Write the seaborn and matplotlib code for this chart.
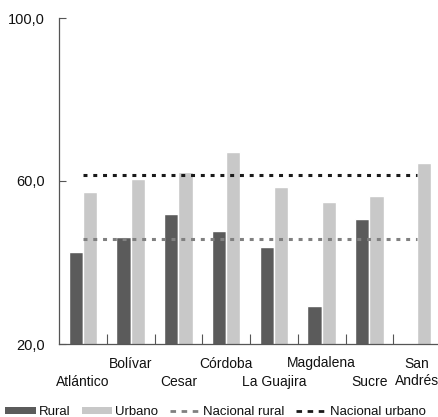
import numpy as np
import pandas as pd
import matplotlib
matplotlib.use("Agg")
import matplotlib.pyplot as plt
import seaborn as sns
from matplotlib.patches import Patch
from matplotlib.lines import Line2D

categorias = ["Atlántico", "Bolívar", "Cesar", "Córdoba", "La Guajira",
              "Magdalena", "Sucre", "San Andrés"]
etiquetas = ["Atlántico", "Bolívar", "Cesar", "Córdoba", "La Guajira",
             "Magdalena", "Sucre", "San\nAndrés"]
rural = [42.6, 46.3, 52.0, 47.7, 43.9, 29.3, 50.6, np.nan]
urbano = [57.3, 60.4, 62.3, 67.0, 58.5, 54.8, 56.2, 64.3]
nacional_rural = 45.7
nacional_urbano = 61.5
y_ticks = [20, 60, 100]
y_labels = ["20,0", "60,0", "100,0"]

sns.set_theme(style="white")
plt.rcParams["font.family"] = ["Liberation Sans", "DejaVu Sans"]

df = pd.DataFrame({
    "depto": categorias * 2,
    "zona": ["Rural"] * len(categorias) + ["Urbano"] * len(categorias),
    "valor": rural + urbano,
})

c_rural = "#5b5b5b"
c_urb = "#c8c8c8"

fig = plt.figure(figsize=(4.38, 4.17), dpi=100)
ax = fig.add_axes([59 / 438, 73 / 417, 382 / 438, 326 / 417])

sns.barplot(data=df, x="depto", y="valor", hue="zona", order=categorias,
            hue_order=["Rural", "Urbano"], palette=[c_rural, c_urb],
            width=0.6, saturation=1, ax=ax, legend=False, errorbar=None)

xs = np.arange(len(categorias))
ax.plot(xs, np.full(len(xs), nacional_rural), color="#808080", lw=2.2,
        linestyle=(0, (1.3, 1.9)), dash_capstyle="butt")
ax.plot(xs, np.full(len(xs), nacional_urbano), color="#1a1a1a", lw=2.2,
        linestyle=(0, (1.3, 1.9)), dash_capstyle="butt")

ax.set_ylim(20, 100)
ax.set_xlim(-0.5, len(categorias) - 0.5)
ax.set_yticks(y_ticks)
ax.set_yticklabels(y_labels, fontsize=10.5, color="#111111")
ax.set_xticks(xs)
ax.set_xticklabels(etiquetas, fontsize=10, linespacing=1.3, va="top",
                   color="#111111")
ax.set_xticks(np.arange(0.5, len(categorias) - 0.5, 1), minor=True)
ax.tick_params(axis="x", which="major", length=0, pad=9)
for i, t in enumerate(ax.xaxis.get_major_ticks()):
    t.set_pad(9 if i % 2 == 1 else 22)
ax.tick_params(axis="x", which="minor", direction="in", length=7,
               color="#555555", width=0.8, bottom=True)
ax.tick_params(axis="y", direction="in", length=5, color="#555555",
               width=0.8, left=True, pad=10)
ax.set_xlabel("")
ax.set_ylabel("")
for s in ["top", "right"]:
    ax.spines[s].set_visible(False)
for s in ["left", "bottom"]:
    ax.spines[s].set_color("#555555")
    ax.spines[s].set_linewidth(0.9)

handles = [
    Patch(facecolor=c_rural, edgecolor="none"),
    Patch(facecolor=c_urb, edgecolor="none"),
    Line2D([], [], color="#808080", lw=2, linestyle=(0, (2, 2))),
    Line2D([], [], color="#1a1a1a", lw=2, linestyle=(0, (2, 2))),
]
labels = ["Rural", "Urbano", "Nacional rural", "Nacional urbano"]
fig.legend(handles, labels, loc="lower left", bbox_to_anchor=(0.0, -0.015),
           ncol=4, frameon=False, fontsize=9.5, handlelength=2.3,
           handleheight=0.5, handletextpad=0.25, columnspacing=0.85,
           borderaxespad=0.1, borderpad=0.3, labelcolor="#111111")

fig.savefig("out.png", dpi=100)
